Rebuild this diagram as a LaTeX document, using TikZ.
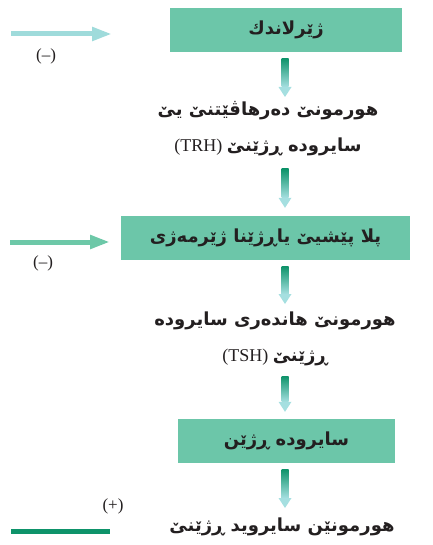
\documentclass[tikz,border=0pt]{standalone}
\usepackage{fontspec}
\usetikzlibrary{calc,arrows.meta}
\TeXXeTstate=1
\setmainfont{Liberation Serif}
\newfontfamily\arabicfont[Script=Arabic]{DejaVu Sans}
\definecolor{boxgreen}{HTML}{6CC6A9}
\definecolor{ltcyan}{HTML}{9FDBDB}
\definecolor{midgreen}{HTML}{6DC8A8}
\definecolor{dkgreen}{HTML}{0E936A}
\definecolor{headcyan}{HTML}{A5DFE0}
\definecolor{txt}{HTML}{231F20}
\newcommand\ar[1]{{\arabicfont\bfseries\beginR #1\endR}}
\newcommand\gradarrow[2]{%
  \shade[top color=dkgreen, bottom color=headcyan]
    ($(#1)+(-3.5,0)$) rectangle ($(#2)+(3.5,-10)$);
  \fill[headcyan] ($(#2)+(-6.5,-10)$) -- ($(#2)+(6.5,-10)$) -- (#2) -- cycle;}
\tikzset{
  box/.style={fill=boxgreen, minimum height=44pt, inner sep=0pt, text=txt,
    font=\fontsize{18}{20}\selectfont},
  lbl/.style={text=txt, align=center, inner sep=0pt,
    font=\fontsize{18}{36}\selectfont},
  sign/.style={text=txt, inner sep=0pt, font=\fontsize{17}{18}\selectfont},
  sidearrow/.style={line width=5pt, -{Triangle[length=20pt,width=13pt]}},
}
\begin{document}
\begin{tikzpicture}[x=1pt,y=-1pt]
\useasboundingbox (0,0) rectangle (432,545);
% boxes and texts
\node[box, minimum width=232pt] (b1) at (286,30) {\ar{ژێرلاندك}};
\node[lbl] (t2) at (268,129) {\ar{هورمونێ دەرهاڤێتنێ یێ}\\(TRH) \ar{سایرودە ڕژێنێ}};
\node[box, minimum width=289pt] (b2) at (265.5,238) {\ar{پلا پێشیێ یاڕژێنا ژێرمەژی}};
\node[lbl] (t4) at (275,339) {\ar{هورمونێ هاندەری سایرودە}\\(TSH) \ar{ڕژێنێ}};
\node[box, minimum width=217pt] (b3) at (286.5,441) {\ar{سایرودە ڕژێن}};
\node[lbl] (t6) at (282,527) {\ar{هورمونێن سایروید ڕژێنێ}};
% vertical arrows
\coordinate (a1s) at ($(b1.south)+(-1,6)$);
\coordinate (a1e) at (285,97);
\gradarrow{a1s}{a1e}
\coordinate (a2s) at (285,169);
\coordinate (a2e) at ($(b2.north -| a2s)+(0,-8)$);
\gradarrow{a2s}{a2e}
\coordinate (a3s) at ($(b2.south -| a2s)+(0,6)$);
\coordinate (a3e) at (285,304);
\gradarrow{a3s}{a3e}
\coordinate (a4s) at (285,376);
\coordinate (a4e) at ($(b3.north -| a4s)+(0,-7)$);
\gradarrow{a4s}{a4e}
\coordinate (a5s) at ($(b3.south -| a4s)+(0,6)$);
\coordinate (a5e) at (285,508);
\gradarrow{a5s}{a5e}
% side signals
\coordinate (l1s) at (11,34);
\coordinate (l1e) at (112,34);
\draw[sidearrow, ltcyan] (l1s) -- (l1e);
\node[sign] (s1) at (46,56) {(–)};
\coordinate (l2s) at (10,242);
\coordinate (l2e) at (110,242);
\draw[sidearrow, midgreen] (l2s) -- (l2e);
\node[sign] (s2) at (43,263) {(–)};
\coordinate (l3s) at (11,531);
\coordinate (l3e) at (110,531);
\draw[line width=5pt, dkgreen] (l3s) -- (l3e);
\node[sign] (s3) at (113,506) {(+)};
\end{tikzpicture}
\end{document}
